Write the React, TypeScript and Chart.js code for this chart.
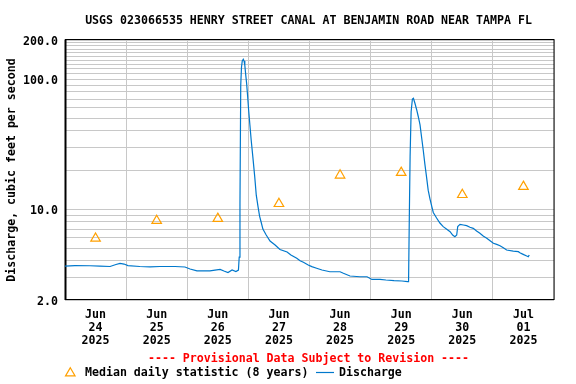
import React, { useEffect, useRef } from "react";
import { Chart, registerables } from "chart.js";

Chart.register(...registerables);

const TITLE = "USGS 023066535 HENRY STREET CANAL AT BENJAMIN ROAD NEAR TAMPA FL";
const Y_TITLE = "Discharge, cubic feet per second";
const PROVISIONAL = "---- Provisional Data Subject to Revision ----";
const LEGEND_MEDIAN = "Median daily statistic (8 years)";
const LEGEND_DISCHARGE = "Discharge";

// x axis: hours since 2025-06-24 00:00
const X_MIN_HOURS = 0;
const X_MAX_HOURS = 192;
const dayLabelHours = [12, 36, 60, 84, 108, 132, 156, 180];
const dayMonths = ["Jun", "Jun", "Jun", "Jun", "Jun", "Jun", "Jun", "Jul"];
const dayNumbers = ["24", "25", "26", "27", "28", "29", "30", "01"];
const dayYears = ["2025", "2025", "2025", "2025", "2025", "2025", "2025", "2025"];

// y axis (log)
const yGridValues = [2, 3, 4, 5, 6, 7, 8, 9, 10, 20, 30, 40, 50, 60, 70, 80, 90, 100, 110, 120, 130, 140, 150, 160, 170, 180, 190, 200];
const yLabelValues = [2, 10, 100, 200];

// Median daily statistic (8 years), plotted at noon of each day
const medianHours = [12, 36, 60, 84, 108, 132, 156, 180];
const medianValues = [5.95, 8.15, 8.45, 11.0, 18.2, 19.1, 12.9, 14.9];

// Discharge
const dischargeHours = [
  0.0, 3.9, 9.8, 13.7, 17.7, 20.0, 21.6, 23.2, 24.7, 29.4, 33.4, 37.3, 43.2, 47.1, 49.1, 51.8, 56.9, 58.9, 60.9, 62.4, 64.0, 65.6, 67.1, 68.1,
  68.4, 68.7, 69.0, 69.3, 69.6, 70.0, 70.3, 70.6, 71.0, 71.3, 71.7, 72.1, 72.6, 73.1, 73.8, 74.5, 75.1, 75.8, 76.4, 77.1, 77.7, 79.0, 80.5, 82.5,
  84.4, 87.2, 88.7, 91.0, 92.3, 93.6, 95.5, 96.9, 98.8, 100.9, 104.0, 108.0, 109.3, 111.9, 115.8, 118.6, 120.5, 123.7, 126.0, 129.2, 132.3, 134.5,
  134.9, 135.2, 135.5, 135.9, 136.4, 136.8, 137.4, 138.1, 138.7, 139.4, 140.0, 140.7, 141.3, 142.0, 142.6, 143.3, 144.0, 144.6, 145.9, 147.2,
  148.5, 149.9, 151.2, 152.2, 153.1, 153.8, 154.2, 155.1, 156.4, 157.7, 159.0, 160.3, 161.6, 162.9, 164.2, 165.6, 166.9, 168.2, 169.5, 170.8,
  172.1, 173.4, 176.0, 178.0, 178.6, 179.9, 181.3, 181.9, 182.3,
];
const dischargeValues = [
  3.65, 3.68, 3.67, 3.65, 3.62, 3.75, 3.82, 3.78, 3.68, 3.62, 3.59, 3.62, 3.62, 3.59, 3.46, 3.35, 3.35, 3.4, 3.44, 3.34, 3.25, 3.4, 3.31, 3.4,
  4.28, 11.1, 90.1, 124, 138, 142, 138, 128, 106, 93.4, 74.2, 57.9, 44.4, 34.0, 24.7, 17.7, 12.8, 10.4, 8.85, 7.82, 7.03, 6.32, 5.69, 5.3,
  4.89, 4.68, 4.44, 4.19, 4.01, 3.9, 3.72, 3.61, 3.51, 3.4, 3.3, 3.3, 3.21, 3.06, 3.02, 3.02, 2.88, 2.88, 2.85, 2.82, 2.8, 2.77,
  2.77, 9.01, 25.3, 56.2, 70.3, 71.2, 65.2, 57.9, 51.6, 44.4, 35.9, 28.0, 22.2, 17.4, 14.0, 12.0, 10.5, 9.42, 8.55, 7.82,
  7.33, 7.0, 6.7, 6.32, 6.14, 6.32, 7.35, 7.64, 7.55, 7.46, 7.25, 7.12, 6.79, 6.52, 6.21, 5.97, 5.72, 5.46, 5.36, 5.23,
  5.05, 4.85, 4.76, 4.71, 4.62, 4.49, 4.36, 4.31, 4.44,
];

const FONT_FAMILY = '"DejaVu Sans Mono", monospace';
const FONT_SIZE = 11.6;
const BLUE = "rgb(0, 120, 204)";
const ORANGE = "rgb(255, 160, 0)";
const GRID = "rgb(200, 200, 200)";

const textPlugin = {
  id: "usgsText",
  beforeDatasetsDraw(chart: any) {
    const { ctx, chartArea } = chart;
    ctx.save();
    ctx.strokeStyle = "#000";
    ctx.lineWidth = 1;
    ctx.strokeRect(chartArea.left + 0.5, chartArea.top - 0.5, chartArea.right - chartArea.left - 0.5, chartArea.bottom - chartArea.top);
    ctx.beginPath();
    ctx.moveTo(chartArea.left + 0.5, chartArea.top - 0.5);
    ctx.lineTo(chartArea.left + 0.5, chartArea.bottom);
    ctx.lineWidth = 2;
    ctx.stroke();
    ctx.restore();
  },
  afterDraw(chart: any) {
    const { ctx, chartArea } = chart;
    const cx = (chartArea.left + chartArea.right) / 2;
    const cy = (chartArea.top + chartArea.bottom) / 2;
    ctx.save();
    ctx.font = `bold ${FONT_SIZE}px ${FONT_FAMILY}`;
    ctx.textBaseline = "middle";
    ctx.fillStyle = "#000";
    ctx.textAlign = "center";
    ctx.fillText(TITLE, cx - 1, 20.5);

    ctx.save();
    ctx.translate(12, cy);
    ctx.rotate(-Math.PI / 2);
    ctx.fillText(Y_TITLE, 0, 0);
    ctx.restore();

    ctx.fillStyle = "rgb(255, 0, 0)";
    ctx.fillText(PROVISIONAL, cx - 1, 358.5);

    // legend
    const ly = 372.8;
    ctx.strokeStyle = ORANGE;
    ctx.lineWidth = 1.2;
    const r = 5.5;
    const tx = 70.3;
    const ty = 373.2;
    ctx.beginPath();
    ctx.moveTo(tx, ty - r);
    ctx.lineTo(tx + Math.sin((2 * Math.PI) / 3) * r, ty + r / 2);
    ctx.lineTo(tx - Math.sin((2 * Math.PI) / 3) * r, ty + r / 2);
    ctx.closePath();
    ctx.stroke();

    ctx.fillStyle = "#000";
    ctx.textAlign = "left";
    ctx.fillText(LEGEND_MEDIAN, 85, ly);

    ctx.strokeStyle = BLUE;
    ctx.lineWidth = 1.2;
    ctx.beginPath();
    ctx.moveTo(316, 372.5);
    ctx.lineTo(334, 372.5);
    ctx.stroke();

    ctx.fillText(LEGEND_DISCHARGE, 339, ly);
    ctx.restore();
  },
};

export default function App() {
  const canvasRef = useRef<HTMLCanvasElement | null>(null);

  useEffect(() => {
    document.body.style.margin = "0";
    const canvas = canvasRef.current;
    if (!canvas) return;
    const font = { family: FONT_FAMILY, size: FONT_SIZE, weight: "bold" as const, lineHeight: 13 / FONT_SIZE };

    const chart = new Chart(canvas, {
      type: "line",
      data: {
        datasets: [
          {
            label: LEGEND_DISCHARGE,
            data: dischargeHours.map((h, i) => ({ x: h, y: dischargeValues[i] })),
            borderColor: BLUE,
            borderWidth: 1.2,
            pointRadius: 0,
            tension: 0,
            fill: false,
          },
          {
            label: LEGEND_MEDIAN,
            data: medianHours.map((h, i) => ({ x: h, y: medianValues[i] })),
            showLine: false,
            pointStyle: "triangle",
            pointRadius: 5.5,
            pointBorderWidth: 1.2,
            pointBorderColor: ORANGE,
            pointBackgroundColor: "rgba(0,0,0,0)",
            borderColor: ORANGE,
            backgroundColor: "rgba(0,0,0,0)",
          },
        ],
      },
      options: {
        responsive: false,
        animation: false,
        events: [],
        layout: { padding: { top: 40, right: 22, left: 0, bottom: 0 } },
        plugins: {
          legend: { display: false },
          tooltip: { enabled: false },
          title: { display: false },
        },
        scales: {
          x: {
            type: "linear",
            min: X_MIN_HOURS,
            max: X_MAX_HOURS,
            border: { display: false },
            grid: { color: GRID, lineWidth: 1, drawTicks: false, offset: true },
            afterBuildTicks: (scale: any) => {
              scale.ticks = dayLabelHours.map((v) => ({ value: v }));
            },
            afterFit: (scale: any) => {
              scale.height = 84;
            },
            ticks: {
              autoSkip: false,
              maxRotation: 0,
              minRotation: 0,
              padding: 8,
              color: "#000",
              font,
              callback: (_v: any, i: number) => [dayMonths[i], dayNumbers[i], dayYears[i]],
            },
          },
          y: {
            type: "logarithmic",
            min: 2,
            max: 200,
            border: { display: false },
            grid: { color: GRID, lineWidth: 1, drawTicks: false },
            afterBuildTicks: (scale: any) => {
              scale.ticks = yGridValues.map((v) => ({ value: v }));
            },
            afterFit: (scale: any) => {
              scale.width = 65;
            },
            ticks: {
              autoSkip: false,
              padding: 7,
              labelOffset: 1.5,
              color: "#000",
              font,
              callback: (v: any) => (yLabelValues.includes(Number(v)) ? Number(v).toFixed(1) : ""),
            },
          },
        },
      },
      plugins: [textPlugin],
    });
    return () => chart.destroy();
  }, []);

  return (
    <div style={{ width: 576, height: 384, position: "relative" }}>
      <canvas ref={canvasRef} width={576} height={384} style={{ display: "block" }} />
    </div>
  );
}
